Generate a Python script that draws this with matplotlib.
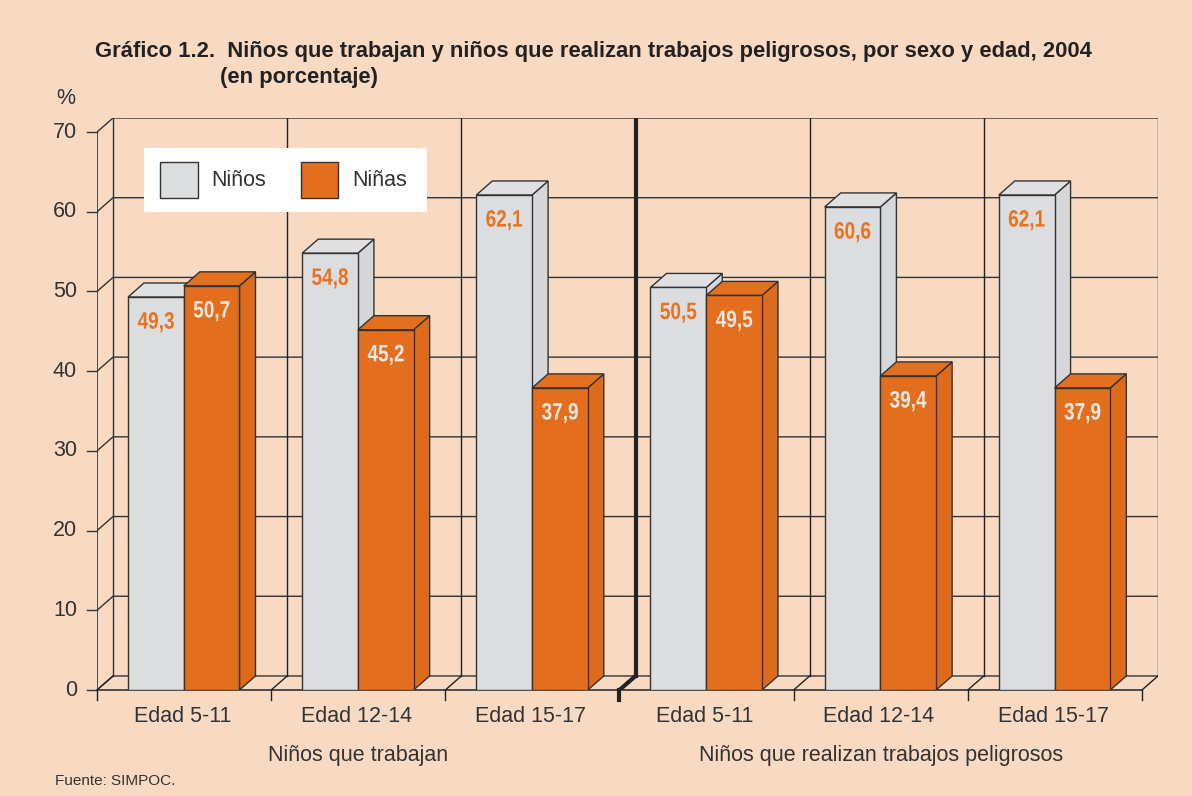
import matplotlib
matplotlib.use('Agg')
import matplotlib.pyplot as plt
from matplotlib.patches import Polygon, Rectangle, PathPatch
from matplotlib.textpath import TextPath
from matplotlib.transforms import Affine2D
from matplotlib.font_manager import FontProperties

categorias = ['Edad 5-11', 'Edad 12-14', 'Edad 15-17', 'Edad 5-11', 'Edad 12-14', 'Edad 15-17']
grupos = ['Niños que trabajan', 'Niños que realizan trabajos peligrosos']
ninos = [49.3, 54.8, 62.1, 50.5, 60.6, 62.1]
ninas = [50.7, 45.2, 37.9, 49.5, 39.4, 37.9]
yticks = [0, 10, 20, 30, 40, 50, 60, 70]

BG = '#F8DAC3'
GRIS, GRIS_LADO, GRIS_TOP = '#DCDDDF', '#D6D7DA', '#DFE0E2'
NAR, NAR_LADO, NAR_TOP = '#E36F1E', '#DE6A1B', '#E2701F'
LINEA = '#333333'
TXT = '#333333'
DX, DY = 0.092, 1.76   # profundidad del efecto 3D
W, X0 = 0.32, 0.178

FONT = ['Liberation Sans', 'DejaVu Sans']
fp_num = FontProperties(family='Liberation Sans', weight='bold')

fig = plt.figure(figsize=(11.92, 7.96), dpi=100, facecolor=BG)
ax = fig.add_axes([97/1192, 106/796, 1061/1192, 572/796])
ax.set_xlim(0, 6 + DX)
ax.set_ylim(0, 70 + DY)
ax.axis('off')


def px(x, y):
    return x/1192, 1 - y/796


# pared de fondo y pared lateral
for v in yticks:
    ax.plot([0, DX, 6 + DX], [v, v + DY, v + DY], color=LINEA, lw=1, zorder=1)
    ax.plot([-0.06, 0], [v, v], color=LINEA, lw=1, clip_on=False, zorder=1)
    ax.text(-0.115, v, str(v), ha='right', va='center', fontsize=15.5,
            color=TXT, family=FONT)
ax.plot([0, 0], [0, 70], color=LINEA, lw=1.2, zorder=1)
ax.plot([DX, DX], [DY, 70 + DY], color=LINEA, lw=1, zorder=1)
for k in range(1, 7):
    ax.plot([k + DX, k + DX], [DY, 70 + DY], color='#222222',
            lw=3 if k == 3 else 1, zorder=1)

# piso
ax.plot([0, 6], [0, 0], color=LINEA, lw=1.2, zorder=1, clip_on=False)
for k in range(7):
    lw = 3 if k == 3 else 1
    ax.plot([k, k + DX], [0, DY], color='#222222', lw=lw, zorder=1)
    ax.plot([k, k], [0, -1.3], color='#222222', lw=lw, clip_on=False, zorder=1)


def barra(x0, h, cfront, cside, ctop):
    lado = Polygon([(x0 + W, 0), (x0 + W + DX, DY), (x0 + W + DX, h + DY), (x0 + W, h)],
                   closed=True, facecolor=cside, edgecolor=LINEA, lw=1, zorder=3)
    tapa = Polygon([(x0, h), (x0 + W, h), (x0 + W + DX, h + DY), (x0 + DX, h + DY)],
                   closed=True, facecolor=ctop, edgecolor=LINEA, lw=1, zorder=3)
    frente = Polygon([(x0, 0), (x0 + W, 0), (x0 + W, h), (x0, h)],
                     closed=True, facecolor=cfront, edgecolor=LINEA, lw=1, zorder=3)
    for p in (lado, tapa, frente):
        ax.add_patch(p)


def etiqueta(x, y, s, color):
    # texto negrita estrechado (condensado) con TextPath
    tp = TextPath((0, 0), s, size=1, prop=fp_num)
    bb = tp.get_extents()
    cx, cy = ax.transData.transform((x, y))
    tr = (Affine2D().translate(-(bb.x0 + bb.x1)/2, -0.358)
          .scale(19.0, 23.7).translate(cx, cy))
    ax.add_patch(PathPatch(tp, transform=tr, facecolor=color, edgecolor='none', zorder=5))


def fmt(v):
    return f'{v:.1f}'.replace('.', ',')


for i in range(6):
    xg = i + X0
    xn = xg + W
    barra(xg, ninos[i], GRIS, GRIS_LADO, GRIS_TOP)
    barra(xn, ninas[i], NAR, NAR_LADO, NAR_TOP)
    etiqueta(xg + W/2, ninos[i] - 2.9, fmt(ninos[i]), '#E8731F')
    etiqueta(xn + W/2, ninas[i] - 2.9, fmt(ninas[i]), '#ECE6E0')
    ax.text(i + 0.49, -3.3, categorias[i], ha='center', va='center',
            fontsize=15.5, color=TXT, family=FONT)

ax.text(1.5, -8.2, grupos[0], ha='center', va='center', fontsize=15.5, color=TXT, family=FONT)
ax.text(4.5, -8.2, grupos[1], ha='center', va='center', fontsize=15.5, color=TXT, family=FONT)

# leyenda
def rect_px(x1, y1, x2, y2, **kw):
    fx, fy = px(x1, y2)
    fig.add_artist(Rectangle((fx, fy), (x2 - x1)/1192, (y2 - y1)/796,
                             transform=fig.transFigure, **kw))

rect_px(144, 148, 427, 212, facecolor='white', edgecolor='none', zorder=10)
rect_px(160, 162, 198, 198, facecolor=GRIS, edgecolor=LINEA, lw=1, zorder=11)
rect_px(301, 162, 338, 198, facecolor=NAR, edgecolor=LINEA, lw=1, zorder=11)
fig.text(*px(211, 181), 'Niños', ha='left', va='center', fontsize=15.5,
         color=TXT, family=FONT, zorder=12)
fig.text(*px(352, 181), 'Niñas', ha='left', va='center', fontsize=15.5,
         color=TXT, family=FONT, zorder=12)

# títulos y notas
fig.text(*px(95, 52), 'Gráfico 1.2.  Niños que trabajan y niños que realizan trabajos peligrosos, por sexo y edad, 2004',
         ha='left', va='center', fontsize=15.8, fontweight='bold', color='#222222', family=FONT)
fig.text(*px(220, 78), '(en porcentaje)', ha='left', va='center', fontsize=15.8,
         fontweight='bold', color='#222222', family=FONT)
fig.text(*px(66, 99), '%', ha='center', va='center', fontsize=15.5, color=TXT, family=FONT)
fig.text(*px(55, 781), 'Fuente: SIMPOC.', ha='left', va='center', fontsize=11,
         color=TXT, family=FONT)

fig.savefig('out.png', dpi=100, facecolor=BG)
